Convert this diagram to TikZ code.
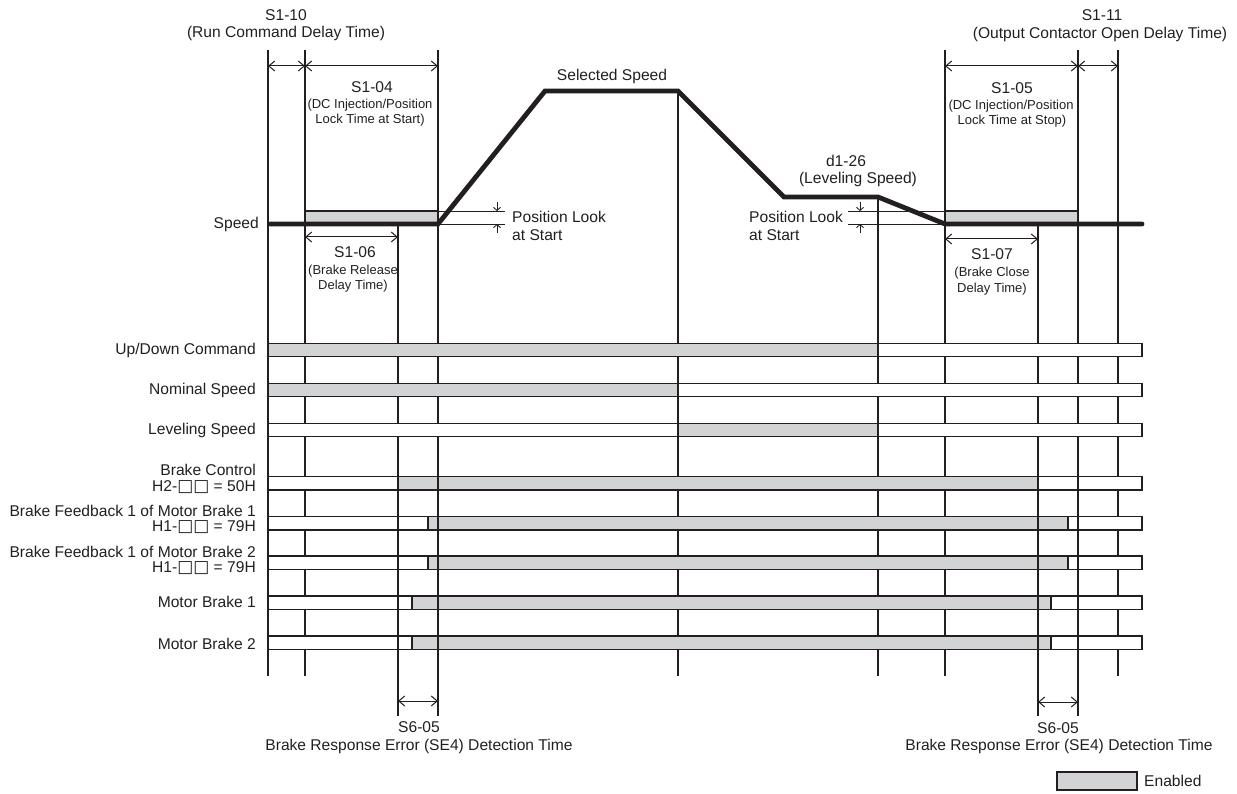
\documentclass[tikz,border=0pt]{standalone}
\usepackage{fontspec}
\setmainfont{Liberation Sans}
\newfontfamily\dv{DejaVu Sans}
\usetikzlibrary{arrows.meta}
\definecolor{ln}{RGB}{35,31,32}
\definecolor{gf}{RGB}{209,211,212}
\newcommand{\sq}{{\dv\fontsize{17}{17}\selectfont □□}}
\begin{document}
\begin{tikzpicture}[x=1pt,y=-1pt,
  every node/.style={inner sep=0pt, text=ln, font=\fontsize{15.6}{17}\selectfont},
  sm/.style={font=\fontsize{13}{14}\selectfont},
  vl/.style={draw=ln, line width=1.2pt},
  hl/.style={draw=ln, line width=0.9pt},
  dimarr/.style={draw=ln, line width=1pt, {Straight Barb[length=6pt,width=10pt]}-{Straight Barb[length=6pt,width=10pt]}},
  tick/.style={draw=ln, line width=0.9pt, -{Straight Barb[length=3pt,width=7pt]}},
  bar/.style={draw=ln, line width=1.2pt, fill=white},
  on/.style={draw=ln, line width=1.2pt, fill=gf},
  spd/.style={draw=ln, line width=4.8pt, line cap=round, line join=miter}
]
\useasboundingbox (0,0) rectangle (1237,794);

% vertical time lines
\foreach \x/\a/\b in {268/50/676, 305/50/676, 398/224/716, 438/50/716, 678/91/676, 878/197/676, 945/50/676, 1038/224/716, 1078/50/716, 1118/50/676}
  \draw[vl] (\x,\a) -- (\x,\b);

% position lock boxes
\draw[on] (305,211) rectangle (438,224);
\draw[on] (945,211) rectangle (1078,224);
\draw[hl] (438,211) -- (505,211);
\draw[hl] (438,224) -- (505,224);
\draw[hl] (848,211) -- (945,211);
\draw[hl] (848,224) -- (945,224);
\draw[tick] (497,202) -- (497,211);
\draw[tick] (497,233) -- (497,224);
\draw[tick] (860,202) -- (860,211);
\draw[tick] (860,233) -- (860,224);

% speed profile
\coordinate (s0) at (270,224);
\coordinate (s1) at (438,224);
\coordinate (s2) at (545,91);
\coordinate (s3) at (678,91);
\coordinate (s4) at (784,197);
\coordinate (s5) at (878,197);
\coordinate (s6) at (945,224);
\coordinate (s7) at (1142,224);
\draw[spd] (s0) -- (s1) -- (s2) -- (s3) -- (s4) -- (s5) -- (s6) -- (s7);

% signal bars
\foreach \t/\ga/\gb in {343.3/268/878, 383.3/268/678, 423.3/678/878, 476.7/398/1038, 516.7/428/1068, 556/428/1068, 596/412/1051, 636/412/1051}{
  \draw[bar] (268,\t) rectangle (1142,\t+13.3);
  \draw[on] (\ga,\t) rectangle (\gb,\t+13.3);
}
\foreach \x in {398,438,1038,1078}
  \draw[vl] (\x,476.7) -- (\x,649.3);

% dimension arrows
\draw[dimarr] (268,66) -- (305,66);
\draw[dimarr] (305,66) -- (438,66);
\draw[dimarr] (945,66) -- (1078,66);
\draw[dimarr] (1078,66) -- (1118,66);
\draw[dimarr] (305,237) -- (398,237);
\draw[dimarr] (945,239) -- (1038,239);
\draw[dimarr] (398,701) -- (438,701);
\draw[dimarr] (1038,702) -- (1078,702);

% texts top
\node (t1a) at (286,15) {S1-10};
\node (t1b) at (286,33) {(Run Command Delay Time)};
\node (t2a) at (372,87) {S1-04};
\node[sm] (t2b) at (370,105) {(DC Injection/Position};
\node[sm] (t2c) at (370,120) {Lock Time at Start)};
\node (tsel) at (612,76) {Selected Speed};
\node (t3a) at (355,252) {S1-06};
\node[sm] (t3b) at (353,271) {(Brake Release};
\node[sm] (t3c) at (353,286) {Delay Time)};
\node[anchor=west] (pl1) at (512,217) {Position Look};
\node[anchor=west] (pl2) at (512,235) {at Start};
\node[anchor=west] (pr1) at (749,217) {Position Look};
\node[anchor=west] (pr2) at (749,235) {at Start};
\node (tla) at (846,161) {d1-26};
\node (tlb) at (858,179) {(Leveling Speed)};
\node (t4a) at (1102,15) {S1-11};
\node (t4b) at (1100,34) {(Output Contactor Open Delay Time)};
\node (t5a) at (1012,88) {S1-05};
\node[sm] (t5b) at (1011,106) {(DC Injection/Position};
\node[sm] (t5c) at (1012,121) {Lock Time at Stop)};
\node (t6a) at (992,254) {S1-07};
\node[sm] (t6b) at (992,273) {(Brake Close};
\node[sm] (t6c) at (992,289) {Delay Time)};
\node[anchor=east] (lspd) at (259,224) {Speed};

% row labels
\node[anchor=east] (r1) at (256,350) {Up/Down Command};
\node[anchor=east] (r2) at (256,390) {Nominal Speed};
\node[anchor=east] (r3) at (256,430) {Leveling Speed};
\node[anchor=east] (r4a) at (256,470) {Brake Control};
\node[anchor=east] (r4b) at (256,487) {H2-\sq{} = 50H};
\node[anchor=east] (r5a) at (256,511) {Brake Feedback 1 of Motor Brake 1};
\node[anchor=east] (r5b) at (256,527) {H1-\sq{} = 79H};
\node[anchor=east] (r6a) at (256,552) {Brake Feedback 1 of Motor Brake 2};
\node[anchor=east] (r6b) at (256,568) {H1-\sq{} = 79H};
\node[anchor=east] (r7) at (256,602) {Motor Brake 1};
\node[anchor=east] (r8) at (256,644) {Motor Brake 2};

% bottom texts
\node (b1a) at (419,727) {S6-05};
\node (b1b) at (419,746) {Brake Response Error (SE4) Detection Time};
\node (b2a) at (1058,728) {S6-05};
\node (b2b) at (1059,746) {Brake Response Error (SE4) Detection Time};

% legend
\draw[on] (1057,772) rectangle (1137,790);
\node[anchor=west] (leg) at (1144,781) {Enabled};
\end{tikzpicture}
\end{document}
